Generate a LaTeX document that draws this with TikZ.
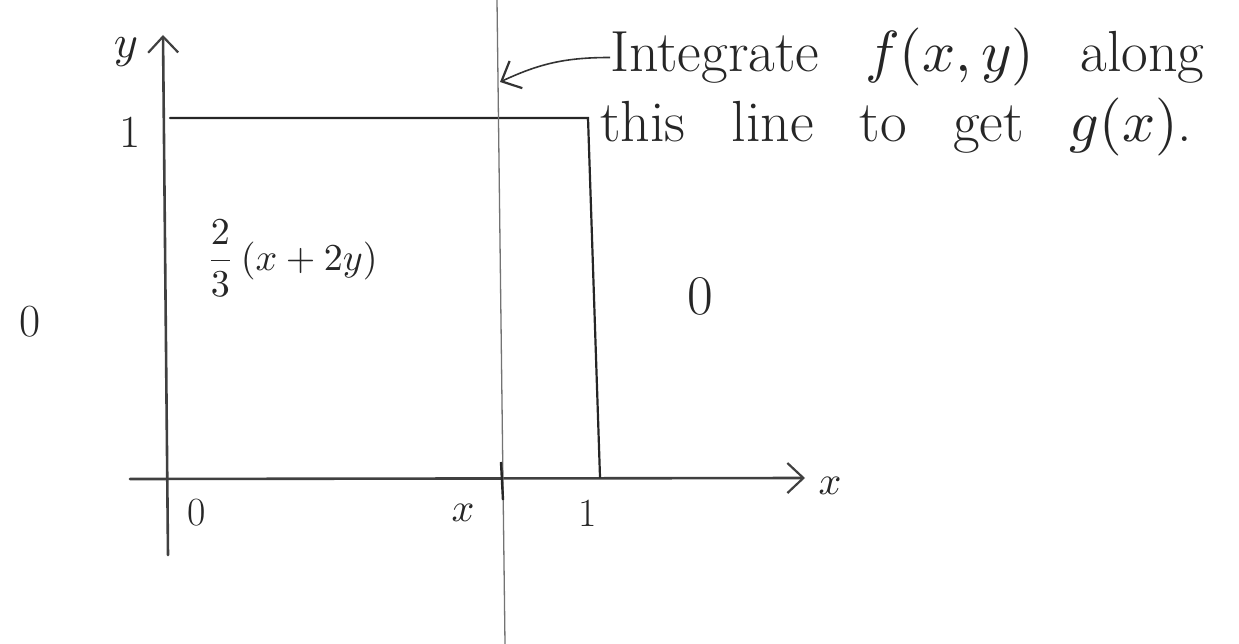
\documentclass[tikz,border=0pt]{standalone}
\usepackage{amsmath}
\usetikzlibrary{arrows.meta}
\newcommand{\smath}[2]{\scalebox{#1}{\normalsize$#2$}}
\newcommand{\wgap}{\hspace{46pt}}
\begin{document}
\begin{tikzpicture}[x=1pt,y=-1pt,
  axisline/.style={line width=2.6pt,draw=black!75,line cap=round},
  boxline/.style={line width=2.2pt,draw=black!85,line cap=round},
  cutline/.style={line width=1.3pt,draw=black!55},
  barb/.style={-{Straight Barb[length=16pt,width=30pt,line width=2.2pt]}},
  lbl/.style={inner sep=0pt,text=black!85},
  bigtxt/.style={lbl,font=\fontsize{58}{64}\selectfont},
  medtxt/.style={lbl,font=\fontsize{40}{46}\selectfont}]
\useasboundingbox (0,0) rectangle (1239,644);
% coordinates
\coordinate (ybot) at (168,555);
\coordinate (ytop) at (163,35);
\coordinate (xleft) at (130,479);
\coordinate (xright) at (805,478);
\coordinate (tl) at (170,118);
\coordinate (tr) at (588,118);
\coordinate (br) at (600,477);
\coordinate (ctop) at (497,0);
\coordinate (cbot) at (505,644);
\coordinate (hit) at (500,82);
\coordinate (tickA) at (501,462);
\coordinate (tickB) at (503,500);
% axes
\draw[axisline,barb] (ybot) -- (ytop);
\draw[axisline,barb] (xleft) -- (xright);
% box
\draw[boxline] (tl) -- (tr) -- (br);
% cut line
\draw[cutline] (ctop) -- (cbot);
\draw[line width=2.4pt,draw=black!85] (tickA) -- (tickB);
% labels
\node[lbl] (ylab) at (126,52) {\smath{4.6}{y}};
\node[medtxt,font=\fontsize{46}{50}\selectfont] (one) at (130,132) {1};
\node[lbl] (xlab) at (830,486) {\smath{4}{x}};
\node[medtxt] (zero0) at (197,513) {0};
\node[lbl] (xval) at (463,513) {\smath{4}{x}};
\node[medtxt] (one1) at (588,513) {1};
\node[lbl] (dens) at (292,258) {\smath{3.8}{\dfrac{2}{3}\,(x+2y)}};
\node[lbl,font=\fontsize{46}{50}\selectfont] (zl) at (30,322) {0};
\node[lbl,font=\fontsize{56}{60}\selectfont] (zr) at (700,296) {0};
% note
\node[bigtxt,anchor=base west] (note1) at (610,72) {Integrate\wgap\smath{5.8}{f(x,y)}\wgap along};
\node[bigtxt,anchor=base west] (note2) at (600,142) {this\wgap line\wgap to\wgap get\wgap\smath{5.8}{g(x)}.};
\draw[line width=1.6pt,draw=black!80,barb] (note1.west) to[out=180,in=25] (hit);
\end{tikzpicture}
\end{document}
